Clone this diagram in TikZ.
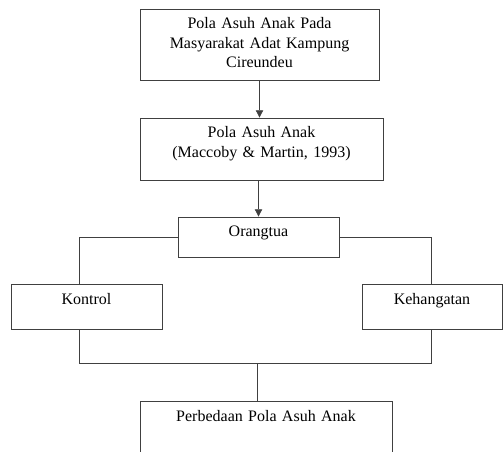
\documentclass[tikz,border=0pt]{standalone}
\usepackage{fontspec}
\setmainfont{Liberation Serif}
\usepackage{tikz}
\usetikzlibrary{shapes, arrows.meta, positioning}

\begin{document}
\begin{tikzpicture}[x=0.75pt, y=-0.75pt,
    kotak/.style={draw=black!75, line width=0.6pt, inner sep=0pt, align=center,
        text height=15pt, font=\fontsize{12}{14.5}\selectfont},
    panah/.style={draw=black!75, line width=0.6pt, -{Triangle[width=5.5pt, length=5.5pt]}},
    garis/.style={draw=black!75, line width=0.6pt}]

                \useasboundingbox (0,0) rectangle (503,452);
                \clip (0,0) rectangle (503,452);

                % Nodes
                \node (pola) [kotak, text width=179.25pt, text depth=38.25pt] at (259.5,44.5) {Pola Asuh Anak Pada\\Masyarakat Adat Kampung\\Cireundeu};
                \node (teori) [kotak, text width=182.25pt, text depth=31.5pt] at (261.5,149) {Pola Asuh Anak\\(Maccoby \& Martin, 1993)};
                \node (orangtua) [kotak, text width=120.75pt, text depth=15pt] at (258.5,237) {Orangtua};
                \node (kontrol) [kotak, text width=113.25pt, text depth=18.75pt] at (86.5,306.5) {Kontrol};
                \node (kehangatan) [kotak, text width=105pt, text depth=18.75pt] at (432,306.5) {Kehangatan};
                \node (perbedaan) [kotak, text width=189pt, text depth=44.25pt] at (266,440.5) {Perbedaan Pola Asuh Anak};

                \coordinate (kiri) at (79,363);
                \coordinate (kanan) at (431,363);
                \coordinate (tengah) at (257,363);

                % Edges
                \draw[panah] (pola.south) -- (pola.south |- teori.north);
                \draw[panah] (teori.south -| orangtua.north) -- (orangtua.north);
                \draw[garis] (orangtua.west) -| (kontrol.north -| kiri);
                \draw[garis] (orangtua.east) -| (kehangatan.north -| kanan);
                \draw[garis] (kontrol.south -| kiri) -- (kiri) -- (kanan) -- (kehangatan.south -| kanan);
                \draw[garis] (tengah) -- (tengah |- perbedaan.north);
            \end{tikzpicture}
\end{document}
